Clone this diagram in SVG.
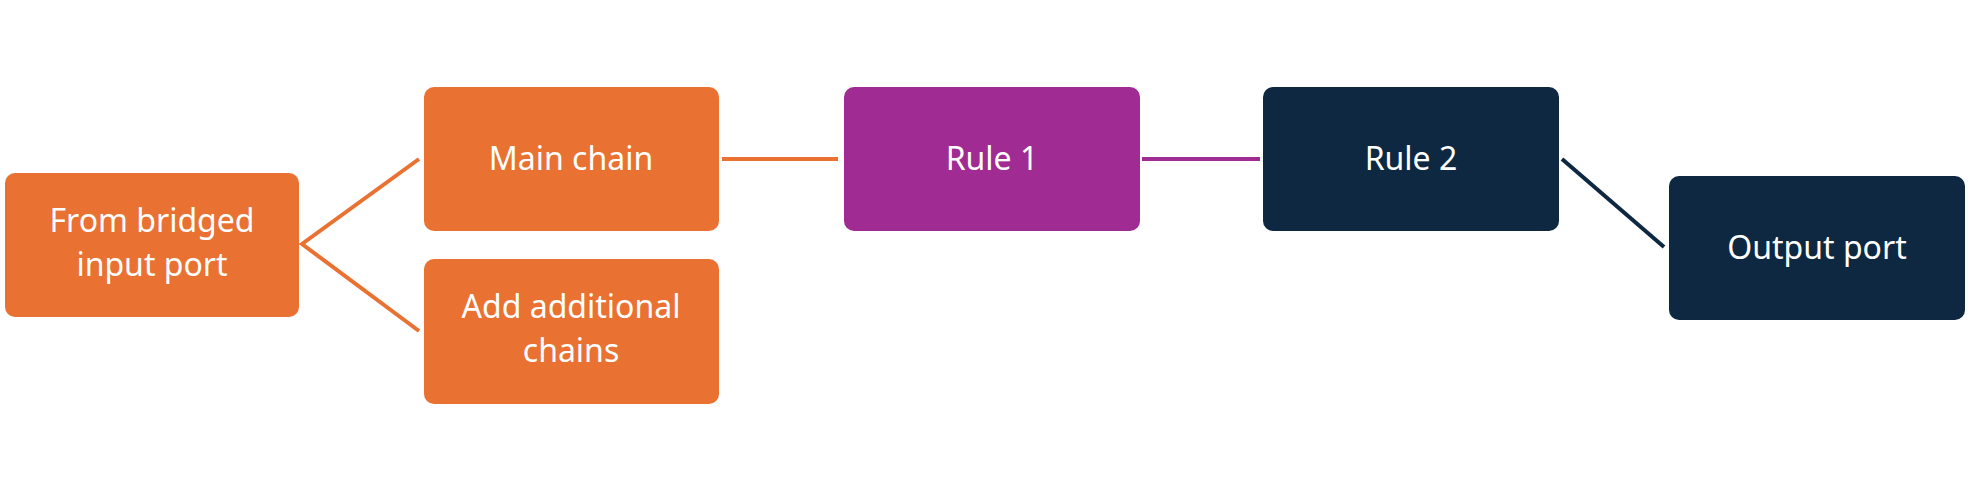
<svg xmlns="http://www.w3.org/2000/svg" width="1981" height="490" viewBox="0 0 1981 490">
<style>
.n{stroke:none}
.o{fill:#E97132}.p{fill:#A02B93}.d{fill:#0E2841}
text{font-family:"Noto Sans","Open Sans",sans-serif;font-size:32px;fill:#fff;text-anchor:middle}
.c{fill:none;stroke-width:4}
</style>
<rect width="1981" height="490" fill="#fff"/>
<g id="connectors">
<path class="c" stroke="#E97132" d="M419,159 L302,244 L419,331"/>
<line class="c" stroke="#E97132" x1="722" y1="159" x2="838" y2="159"/>
<line class="c" stroke="#A02B93" x1="1142" y1="159" x2="1260" y2="159"/>
<line class="c" stroke="#0E2841" x1="1562" y1="159" x2="1664" y2="247"/>
</g>
<g id="from"><rect class="o" x="5" y="173" width="294" height="144" rx="10"/><text x="152" y="232">From bridged</text><text x="152" y="276">input port</text></g>
<g id="main"><rect class="o" x="424" y="87" width="295" height="144" rx="10"/><text x="571" y="170">Main chain</text></g>
<g id="add"><rect class="o" x="424" y="259" width="295" height="145" rx="10"/><text x="571" y="318">Add additional</text><text x="571" y="362">chains</text></g>
<g id="rule1"><rect class="p" x="844" y="87" width="296" height="144" rx="10"/><text x="992" y="170">Rule 1</text></g>
<g id="rule2"><rect class="d" x="1263" y="87" width="296" height="144" rx="10"/><text x="1411" y="170">Rule 2</text></g>
<g id="output"><rect class="d" x="1669" y="176" width="296" height="144" rx="10"/><text x="1817" y="259">Output port</text></g>
</svg>
